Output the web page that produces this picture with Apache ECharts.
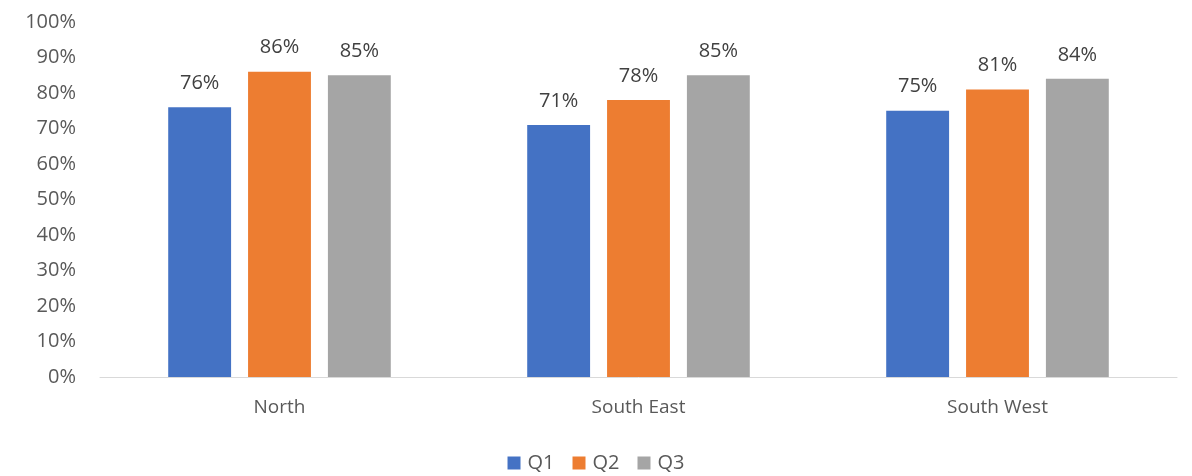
<!DOCTYPE html>
<html><head><meta charset="utf-8">
<script src="https://cdn.jsdelivr.net/npm/echarts@6/dist/echarts.min.js"></script>
<style>html,body{margin:0;padding:0;background:#fff}#c{width:1192px;height:476px}</style>
</head><body><div id="c"></div>
<script>
const categories = ['North', 'South East', 'South West'];
const seriesNames = ['Q1', 'Q2', 'Q3'];
const q1 = [76, 71, 75];
const q2 = [86, 78, 81];
const q3 = [85, 85, 84];
const colors = ['#4472C4', '#ED7D31', '#A5A5A5'];
const font = '"Open Sans", sans-serif';
const chart = echarts.init(document.getElementById('c'));
const data = [q1, q2, q3];
chart.setOption({
  animation: false,
  color: colors,
  grid: {left: 100, right: 15, top: 22, bottom: 99, containLabel: false},
  legend: {
    bottom: -2, left: 'center', itemWidth: 13, itemHeight: 13, itemGap: 18,
    icon: 'rect',
    textStyle: {color: '#595959', fontSize: 20, fontFamily: font, padding: [0,0,0,2]},
    data: seriesNames
  },
  xAxis: {
    type: 'category', data: categories,
    axisLine: {lineStyle: {color: '#D9D9D9', width: 1}},
    axisTick: {show: false},
    axisLabel: {color: '#595959', fontSize: 19, fontFamily: font, margin: 21}
  },
  yAxis: {
    type: 'value', min: 0, max: 100, interval: 10,
    axisLine: {show: false}, axisTick: {show: false},
    splitLine: {show: false},
    axisLabel: {color: '#595959', fontSize: 20, fontFamily: font, margin: 24, formatter: '{value}%'}
  },
  series: seriesNames.map((n, i) => ({
    name: n, type: 'bar', data: data[i],
    barGap: '27%', barCategoryGap: '38%',
    label: {show: true, position: 'top', distance: 14, formatter: '{c}%', color: '#404040', fontSize: 20, fontFamily: font}
  }))
});
</script></body></html>
